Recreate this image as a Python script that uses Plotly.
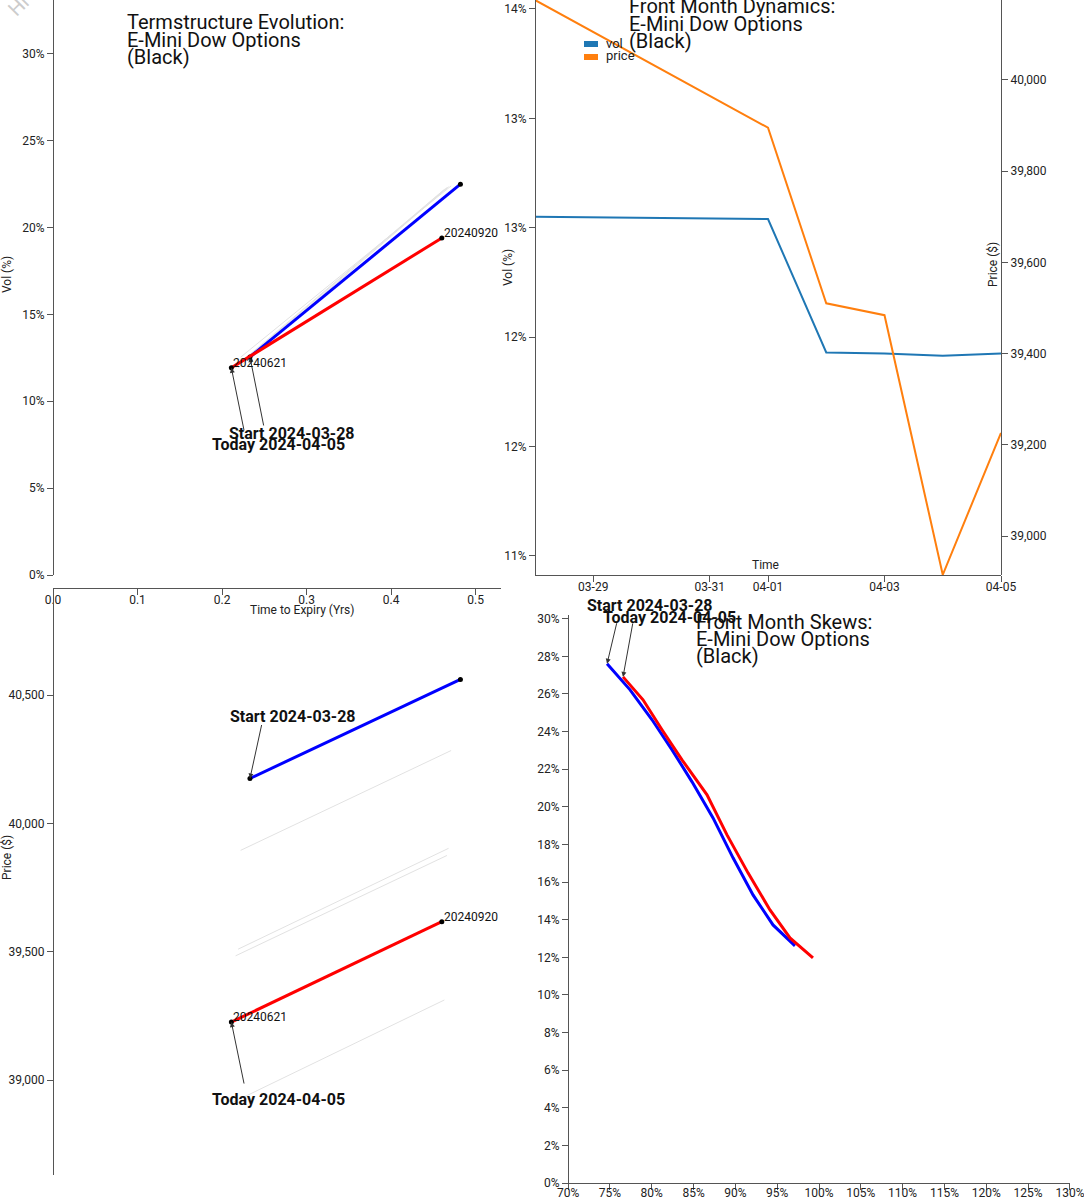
import plotly.graph_objects as go

W, H = 1084, 1200
FONT = "Roboto"


def px(x):
    return x / W


def py(y):
    return 1 - y / H


# ---------------- data ----------------
dates = ["2024-03-28", "2024-04-01", "2024-04-02", "2024-04-03", "2024-04-04", "2024-04-05"]
front_expiry = "20240621"
back_expiry = "20240920"
front_tte = [0.233, 0.222, 0.219, 0.216, 0.214, 0.211]
back_tte = [0.482, 0.471, 0.468, 0.466, 0.463, 0.460]
front_vol = [0.1255, 0.1254, 0.1193, 0.11925, 0.11915, 0.11925]
back_vol = [0.2250, 0.2240, 0.2235, 0.2230, 0.2220, 0.1940]
front_price = [40175, 39895, 39510, 39484, 38915, 39226]
back_price = [40561, 40284, 39903, 39875, 39312, 39617]

skew_m_start = [0.7466, 0.7741, 0.8004, 0.8243, 0.8482, 0.8733, 0.8972, 0.9211, 0.9450, 0.9713]
skew_v_start = [0.2761, 0.2622, 0.2463, 0.2303, 0.2133, 0.1941, 0.1729, 0.1532, 0.1372, 0.1261]
skew_m_today = [0.7657, 0.7896, 0.8123, 0.8362, 0.8661, 0.8900, 0.9151, 0.9414, 0.9653, 0.9928]
skew_v_today = [0.2691, 0.2569, 0.2410, 0.2250, 0.2064, 0.1851, 0.1649, 0.1452, 0.1303, 0.1197]

tte_ticks = [0.0, 0.1, 0.2, 0.3, 0.4, 0.5]
vol_ticks = [0.0, 0.05, 0.10, 0.15, 0.20, 0.25, 0.30]
price_ticks_bl = [39000, 39500, 40000, 40500]
time_tickvals = ["2024-03-29", "2024-03-31", "2024-04-01", "2024-04-03", "2024-04-05"]
time_ticktext = ["03-29", "03-31", "04-01", "04-03", "04-05"]
fm_vol_tickvals = [0.110, 0.115, 0.120, 0.125, 0.130, 0.135]
fm_vol_ticktext = ["11%", "12%", "12%", "13%", "13%", "14%"]
fm_price_ticks = [39000, 39200, 39400, 39600, 39800, 40000]
moneyness_ticks = [0.70, 0.75, 0.80, 0.85, 0.90, 0.95, 1.00, 1.05, 1.10, 1.15, 1.20, 1.25, 1.30]
moneyness_labels = ["70%", "75%", "80%", "85%", "90%", "95%", "100%", "105%", "110%",
                    "115%", "120%", "125%", "130%"]
skew_vol_ticks = [0.00, 0.02, 0.04, 0.06, 0.08, 0.10, 0.12, 0.14, 0.16, 0.18, 0.20,
                  0.22, 0.24, 0.26, 0.28, 0.30]

start_label = "Start 2024-03-28"
today_label = "Today 2024-04-05"

# ---------------- figure ----------------
fig = go.Figure()

GREY = "#e2e2e2"
BLUE = "#0000ff"
RED = "#ff0000"

for i in range(1, len(dates) - 1):
    fig.add_trace(go.Scatter(x=[front_tte[i], back_tte[i]], y=[front_vol[i], back_vol[i]],
                             mode="lines", line=dict(color=GREY, width=1),
                             xaxis="x", yaxis="y", hoverinfo="skip"))
    fig.add_trace(go.Scatter(x=[front_tte[i], back_tte[i]], y=[front_price[i], back_price[i]],
                             mode="lines", line=dict(color=GREY, width=1),
                             xaxis="x", yaxis="y2", hoverinfo="skip"))

for idx, col in [(0, BLUE), (-1, RED)]:
    fig.add_trace(go.Scatter(x=[front_tte[idx], back_tte[idx]], y=[front_vol[idx], back_vol[idx]],
                             mode="lines+markers", line=dict(color=col, width=3),
                             marker=dict(color="black", size=5),
                             xaxis="x", yaxis="y"))
    fig.add_trace(go.Scatter(x=[front_tte[idx], back_tte[idx]], y=[front_price[idx], back_price[idx]],
                             mode="lines+markers", line=dict(color=col, width=3),
                             marker=dict(color="black", size=5),
                             xaxis="x", yaxis="y2"))

fig.add_trace(go.Scatter(x=dates, y=front_vol, mode="lines", name="vol",
                         line=dict(color="#1f77b4", width=2), xaxis="x3", yaxis="y3"))
fig.add_trace(go.Scatter(x=dates, y=front_price, mode="lines", name="price",
                         line=dict(color="#ff7f0e", width=2), xaxis="x3", yaxis="y4"))

fig.add_trace(go.Scatter(x=skew_m_start, y=skew_v_start, mode="lines",
                         line=dict(color=BLUE, width=3), xaxis="x5", yaxis="y5"))
fig.add_trace(go.Scatter(x=skew_m_today, y=skew_v_today, mode="lines",
                         line=dict(color=RED, width=3), xaxis="x5", yaxis="y5"))

axis_common = dict(showline=True, linecolor="#555", linewidth=1, ticks="outside",
                   ticklen=6, tickcolor="#555", showgrid=False, zeroline=False,
                   automargin=False, ticklabeloverflow="allow",
                   tickfont=dict(family=FONT, size=12, color="#222"), anchor="free")

fig.update_layout(
    template="none",
    width=W, height=H, margin=dict(l=0, r=0, t=0, b=0, pad=0), autosize=False,
    paper_bgcolor="white", plot_bgcolor="rgba(0,0,0,0)",
    showlegend=False, font=dict(family=FONT, size=12, color="#222"),
    xaxis=dict(domain=[px(53), px(501)], range=[0, 0.53], position=py(588),
               tickvals=tte_ticks, tickformat=".1f", ticklabelstandoff=-5, **axis_common),
    yaxis=dict(domain=[py(575), py(0)], range=[0, 0.331], position=px(53),
               tickvals=vol_ticks, tickformat=".0%", **axis_common),
    yaxis2=dict(domain=[py(1175), py(595)], range=[38630, 40890], position=px(53),
                tickvals=price_ticks_bl, tickformat=",", **axis_common),
    xaxis3=dict(type="date", domain=[px(535), px(1001)], range=["2024-03-28", "2024-04-05"],
                position=py(575), tickvals=time_tickvals, ticktext=time_ticktext,
                ticklabelstandoff=-5, **axis_common),
    yaxis3=dict(domain=[py(575), py(0)], range=[0.10913, 0.13541], position=px(535),
                tickvals=fm_vol_tickvals, ticktext=fm_vol_ticktext, **axis_common),
    yaxis4=dict(overlaying="y3", side="right", range=[38914.5, 40175], position=px(1001),
                tickvals=fm_price_ticks, tickformat=",", **axis_common),
    xaxis5=dict(domain=[px(568), px(1070)], range=[0.6999, 1.3001], position=py(1183),
                tickvals=moneyness_ticks, ticktext=moneyness_labels,
                ticklabelstandoff=-7, **axis_common),
    yaxis5=dict(domain=[py(1183), py(615)], range=[0, 0.302], position=px(568),
                tickvals=skew_vol_ticks, tickformat=".0%", **axis_common),
)

ann = []


def text_at(x, y, text, size=12, bold=False, xanchor="center", angle=0, color="#222"):
    t = f"<b>{text}</b>" if bold else text
    ann.append(dict(x=px(x), y=py(y), xref="paper", yref="paper", text=t, showarrow=False,
                    xanchor=xanchor, yanchor="middle", textangle=angle,
                    font=dict(family=FONT, size=size, color=color)))


for lines, x0, ys in [
    (["Termstructure Evolution:", "E-Mini Dow Options", "(Black)"], 125, [22, 40, 57]),
    (["Front Month Dynamics:", "E-Mini Dow Options", "(Black)"], 627, [6, 24, 41]),
    (["Front Month Skews:", "E-Mini Dow Options", "(Black)"], 694, [622, 639, 656]),
]:
    for ln, yy in zip(lines, ys):
        text_at(x0, yy, ln, size=20, xanchor="left", color="#111")

text_at(7, 275, "Vol (%)", angle=-90)
text_at(302, 610, "Time to Expiry (Yrs)")
text_at(7, 858, "Price ($)", angle=-90)
text_at(508, 268, "Vol (%)", angle=-90)
text_at(993, 265, "Price ($)", angle=-90)
text_at(765, 565, "Time")

fig.add_shape(type="rect", xref="paper", yref="paper", x0=px(584), x1=px(598), y0=py(47), y1=py(41),
              fillcolor="#1f77b4", line=dict(width=0))
fig.add_shape(type="rect", xref="paper", yref="paper", x0=px(584), x1=px(598), y0=py(60), y1=py(54),
              fillcolor="#ff7f0e", line=dict(width=0))
text_at(604, 43, "vol", size=13, xanchor="left")
text_at(604, 56, "price", size=13, xanchor="left")

text_at(292, 433, start_label, size=16, bold=True, color="#111")
text_at(278, 444, today_label, size=16, bold=True, color="#111")
text_at(293, 716, start_label, size=16, bold=True, color="#111")
text_at(278, 1099, today_label, size=16, bold=True, color="#111")
text_at(650, 605, start_label, size=16, bold=True, color="#111")
text_at(669, 617, today_label, size=16, bold=True, color="#111")


def arrow(xv, yv, xref, yref, ax, ay):
    ann.append(dict(x=xv, y=yv, xref=xref, yref=yref, text="", showarrow=True,
                    ax=ax, ay=ay, axref="pixel", ayref="pixel",
                    arrowhead=2, arrowsize=1, arrowwidth=1, arrowcolor="#333", standoff=0))


arrow(front_tte[0], front_vol[0], "x", "y", 14, 70)
arrow(front_tte[-1], front_vol[-1], "x", "y", 13, 64)
arrow(front_tte[0], front_price[0], "x", "y2", 12, -55)
arrow(front_tte[-1], front_price[-1], "x", "y2", 13, 63)
arrow(skew_m_start[0], skew_v_start[0], "x5", "y5", 10, -42)
arrow(skew_m_today[0], skew_v_today[0], "x5", "y5", 10, -55)

for yref, fv, bv in [("y", front_vol[-1], back_vol[-1]), ("y2", front_price[-1], back_price[-1])]:
    for xv, yv, lab in [(front_tte[-1], fv, front_expiry), (back_tte[-1], bv, back_expiry)]:
        ann.append(dict(x=xv, y=yv, xref="x", yref=yref, text=lab, showarrow=False,
                        xanchor="left", yanchor="middle", xshift=0, yshift=5,
                        font=dict(family=FONT, size=12, color="#111")))

ann.append(dict(x=0, y=py(24), xref="paper", yref="paper", text="Hi", showarrow=False,
                xanchor="left", yanchor="bottom",
                textangle=-45, font=dict(family=FONT, size=20, color="#cccccc")))

fig.update_layout(annotations=ann)
fig.write_html(
    "out.html",
    post_script="document.body.style.margin='0';document.body.style.overflow='hidden';",
)
